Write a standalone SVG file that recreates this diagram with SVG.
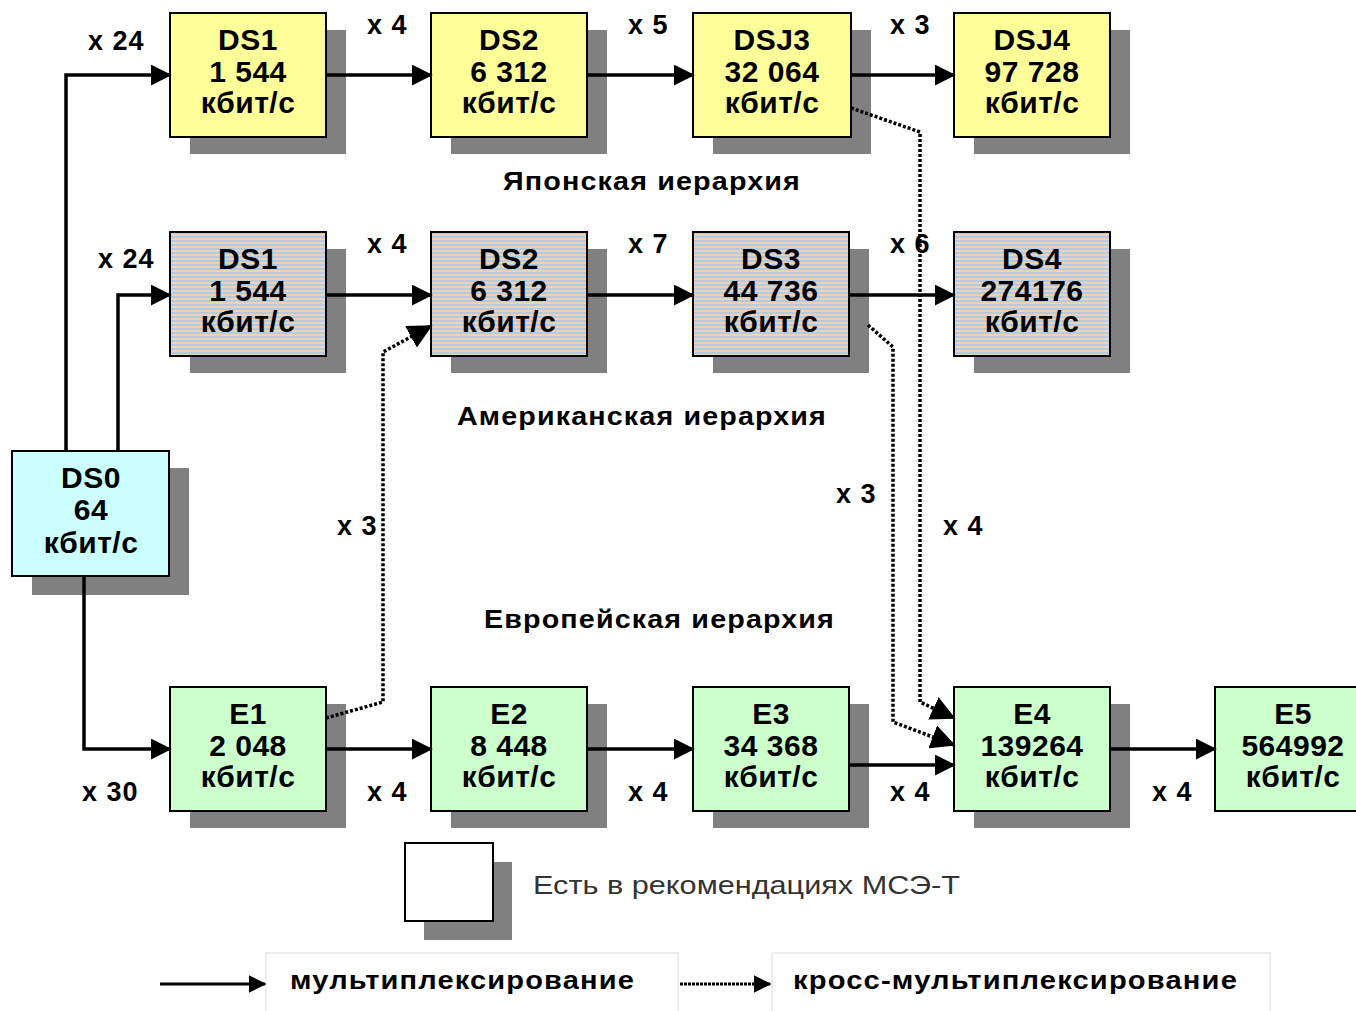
<svg xmlns="http://www.w3.org/2000/svg" width="1356" height="1011" viewBox="0 0 1356 1011">
<defs>
<pattern id="stripes" patternUnits="userSpaceOnUse" width="8" height="4">
<rect x="0" y="0" width="8" height="2" fill="#b4cbe6"/>
<rect x="0" y="2" width="8" height="2" fill="#eed2b4"/>
</pattern>
<marker id="arr" markerWidth="6" markerHeight="6" refX="5.5" refY="3" orient="auto" markerUnits="strokeWidth">
<path d="M0,0 L6,3 L0,6 Z" fill="#000"/>
</marker>
<marker id="arrd" markerWidth="7" markerHeight="7" refX="6.5" refY="3.5" orient="auto" markerUnits="strokeWidth">
<path d="M0,0 L7,3.5 L0,7 Z" fill="#000"/>
</marker>
</defs>
<style>
.sh{fill:#808080}
.bx{stroke:#000;stroke-width:2}
.y{fill:#ffff99}.g{fill:#ccffcc}.c{fill:#ccffff}.s{fill:url(#stripes)}
.t{font-family:"Liberation Sans",Arial,sans-serif;font-weight:bold;font-size:30px;text-anchor:middle;fill:#000;letter-spacing:0.5px}
.lb{font-family:"Liberation Sans",Arial,sans-serif;font-weight:bold;font-size:27px;fill:#000;letter-spacing:1px}
.h{font-family:"Liberation Sans",Arial,sans-serif;font-weight:bold;font-size:25px;fill:#000;letter-spacing:1px}
.ln{fill:none;stroke:#000;stroke-width:3.5}
.dt{fill:none;stroke:#000;stroke-width:3.5;stroke-dasharray:3,2}
</style>
<rect width="1356" height="1011" fill="#fff"/>

<g id="DS1j"><rect class="sh" x="190" y="30" width="156" height="124"/><rect class="bx y" x="170" y="13" width="156" height="124"/><text class="t" x="248" y="50">DS1</text><text class="t" x="248" y="82">1 544</text><text class="t" x="248" y="113">кбит/с</text></g>
<g id="DS2j"><rect class="sh" x="451" y="30" width="156" height="124"/><rect class="bx y" x="431" y="13" width="156" height="124"/><text class="t" x="509" y="50">DS2</text><text class="t" x="509" y="82">6 312</text><text class="t" x="509" y="113">кбит/с</text></g>
<g id="DSJ3"><rect class="sh" x="713" y="30" width="158" height="124"/><rect class="bx y" x="693" y="13" width="158" height="124"/><text class="t" x="772" y="50">DSJ3</text><text class="t" x="772" y="82">32 064</text><text class="t" x="772" y="113">кбит/с</text></g>
<g id="DSJ4"><rect class="sh" x="974" y="30" width="156" height="124"/><rect class="bx y" x="954" y="13" width="156" height="124"/><text class="t" x="1032" y="50">DSJ4</text><text class="t" x="1032" y="82">97 728</text><text class="t" x="1032" y="113">кбит/с</text></g>

<g id="DS1a"><rect class="sh" x="190" y="249" width="156" height="124"/><rect class="bx s" x="170" y="232" width="156" height="124"/><text class="t" x="248" y="269">DS1</text><text class="t" x="248" y="301">1 544</text><text class="t" x="248" y="332">кбит/с</text></g>
<g id="DS2a"><rect class="sh" x="451" y="249" width="156" height="124"/><rect class="bx s" x="431" y="232" width="156" height="124"/><text class="t" x="509" y="269">DS2</text><text class="t" x="509" y="301">6 312</text><text class="t" x="509" y="332">кбит/с</text></g>
<g id="DS3a"><rect class="sh" x="713" y="249" width="156" height="124"/><rect class="bx s" x="693" y="232" width="156" height="124"/><text class="t" x="771" y="269">DS3</text><text class="t" x="771" y="301">44 736</text><text class="t" x="771" y="332">кбит/с</text></g>
<g id="DS4a"><rect class="sh" x="974" y="249" width="156" height="124"/><rect class="bx s" x="954" y="232" width="156" height="124"/><text class="t" x="1032" y="269">DS4</text><text class="t" x="1032" y="301">274176</text><text class="t" x="1032" y="332">кбит/с</text></g>

<g id="DS0"><rect class="sh" x="32" y="468" width="157" height="127"/><rect class="bx c" x="12" y="451" width="157" height="125"/><text class="t" x="91" y="488">DS0</text><text class="t" x="91" y="520">64</text><text class="t" x="91" y="553">кбит/с</text></g>

<g id="E1"><rect class="sh" x="190" y="704" width="156" height="124"/><rect class="bx g" x="170" y="687" width="156" height="124"/><text class="t" x="248" y="724">E1</text><text class="t" x="248" y="756">2 048</text><text class="t" x="248" y="787">кбит/с</text></g>
<g id="E2"><rect class="sh" x="451" y="704" width="156" height="124"/><rect class="bx g" x="431" y="687" width="156" height="124"/><text class="t" x="509" y="724">E2</text><text class="t" x="509" y="756">8 448</text><text class="t" x="509" y="787">кбит/с</text></g>
<g id="E3"><rect class="sh" x="713" y="704" width="156" height="124"/><rect class="bx g" x="693" y="687" width="156" height="124"/><text class="t" x="771" y="724">E3</text><text class="t" x="771" y="756">34 368</text><text class="t" x="771" y="787">кбит/с</text></g>
<g id="E4"><rect class="sh" x="974" y="704" width="156" height="124"/><rect class="bx g" x="954" y="687" width="156" height="124"/><text class="t" x="1032" y="724">E4</text><text class="t" x="1032" y="756">139264</text><text class="t" x="1032" y="787">кбит/с</text></g>
<g id="E5"><rect class="bx g" x="1215" y="687" width="156" height="124"/><text class="t" x="1293" y="724">E5</text><text class="t" x="1293" y="756">564992</text><text class="t" x="1293" y="787">кбит/с</text></g>

<g id="connectors">
<polyline class="ln" points="66,451 66,75 170,75" marker-end="url(#arr)"/>
<polyline class="ln" points="118,451 118,295 170,295" marker-end="url(#arr)"/>
<polyline class="ln" points="84,576 84,749 170,749" marker-end="url(#arr)"/>
<line class="ln" x1="326" y1="75" x2="431" y2="75" marker-end="url(#arr)"/>
<line class="ln" x1="587" y1="75" x2="693" y2="75" marker-end="url(#arr)"/>
<line class="ln" x1="851" y1="75" x2="954" y2="75" marker-end="url(#arr)"/>
<line class="ln" x1="326" y1="295" x2="431" y2="295" marker-end="url(#arr)"/>
<line class="ln" x1="587" y1="295" x2="693" y2="295" marker-end="url(#arr)"/>
<line class="ln" x1="849" y1="295" x2="954" y2="295" marker-end="url(#arr)"/>
<line class="ln" x1="326" y1="749" x2="431" y2="749" marker-end="url(#arr)"/>
<line class="ln" x1="587" y1="749" x2="693" y2="749" marker-end="url(#arr)"/>
<line class="ln" x1="849" y1="765" x2="954" y2="765" marker-end="url(#arr)"/>
<line class="ln" x1="1110" y1="749" x2="1215" y2="749" marker-end="url(#arr)"/>
<polyline class="dt" points="851,108 920,132 920,702 954,718" marker-end="url(#arrd)"/>
<polyline class="dt" points="868,325 893,347 893,722 954,745" marker-end="url(#arrd)"/>
<polyline class="dt" points="326,718 383,702 383,352 431,326" marker-end="url(#arrd)"/>
</g>

<g id="labels">
<text class="lb" x="88" y="50">x 24</text>
<text class="lb" x="367" y="34">x 4</text>
<text class="lb" x="628" y="34">x 5</text>
<text class="lb" x="890" y="34">x 3</text>
<text class="lb" x="98" y="268">x 24</text>
<text class="lb" x="367" y="253">x 4</text>
<text class="lb" x="628" y="253">x 7</text>
<text class="lb" x="890" y="253">x 6</text>
<text class="lb" x="82" y="801">x 30</text>
<text class="lb" x="367" y="801">x 4</text>
<text class="lb" x="628" y="801">x 4</text>
<text class="lb" x="890" y="801">x 4</text>
<text class="lb" x="1152" y="801">x 4</text>
<text class="lb" x="337" y="535">x 3</text>
<text class="lb" x="836" y="503">x 3</text>
<text class="lb" x="943" y="535">x 4</text>
<text class="h" x="503" y="190" textLength="298" lengthAdjust="spacingAndGlyphs">Японская иерархия</text>
<text class="h" x="457" y="425" textLength="370" lengthAdjust="spacingAndGlyphs">Американская иерархия</text>
<text class="h" x="484" y="628" textLength="351" lengthAdjust="spacingAndGlyphs">Европейская иерархия</text>
</g>

<g id="legend">
<rect class="sh" x="424" y="862" width="88" height="78"/>
<rect x="405" y="843" width="88" height="78" fill="#fff" stroke="#000" stroke-width="2"/>
<text x="533" y="894" textLength="427" lengthAdjust="spacingAndGlyphs" style="font-family:'Liberation Sans',Arial,sans-serif;font-size:26px;fill:#333">Есть в рекомендациях МСЭ-Т</text>
<rect x="266" y="953" width="412" height="62" fill="#fff" stroke="#ddd" stroke-width="1"/>
<rect x="772" y="953" width="498" height="62" fill="#fff" stroke="#ddd" stroke-width="1"/>
<line x1="160" y1="984" x2="265" y2="984" stroke="#000" stroke-width="3" marker-end="url(#arr)"/>
<line x1="680" y1="984" x2="770" y2="984" stroke="#000" stroke-width="3" stroke-dasharray="3,1" marker-end="url(#arr)"/>
<text class="h" x="290" y="989" textLength="345" lengthAdjust="spacingAndGlyphs">мультиплексирование</text>
<text class="h" x="793" y="989" textLength="445" lengthAdjust="spacingAndGlyphs">кросс-мультиплексирование</text>
</g>
</svg>
